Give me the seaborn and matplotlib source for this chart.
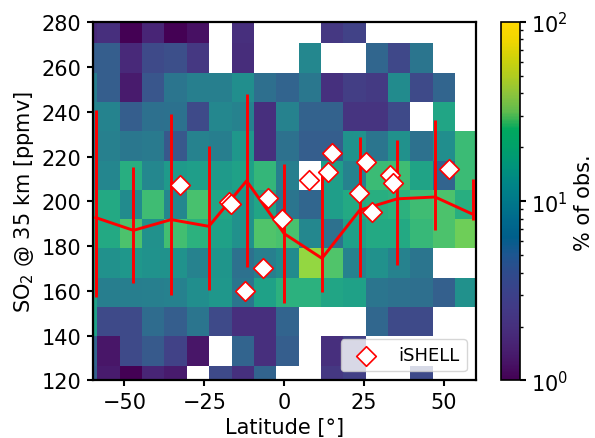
import numpy as np
import matplotlib
matplotlib.use("Agg")
import matplotlib.pyplot as plt
import seaborn as sns
from matplotlib.colors import LogNorm, LinearSegmentedColormap
from matplotlib.cm import ScalarMappable

nan = np.nan

# ---------------- data ----------------
# 2-D histogram bin edges
lat_edges = np.arange(-65.5, 61.0, 7.0)            # 18 latitude bins
so2_edges = 113.5 + 13.1 * np.arange(14)           # 13 SO2 bins

# % of observations per cell (rows: bottom -> top, columns: south -> north)
row_00 = [4.0, 1.4, 1.0, 1.6, 1.4, nan, 2.8, 1.9, 4.3, nan, nan, 2.1, 2.4, nan, nan, 2.8, nan, nan]
row_01 = [4.5, 1.3, 2.8, 3.6, 2.5, 1.3, nan, 4.3, 1.85, 3.9, nan, 1.85, 2.4, nan, nan, nan, nan, nan]
row_02 = [14, 2.8, 2.8, 5.0, 3.9, 6.0, 2.8, 1.85, 1.85, 4.3, nan, nan, nan, 4.6, 2.8, 2.8, nan, nan]
row_03 = [14, 7.0, 7.0, 7.2, 7.4, 9.5, 11.5, 6.0, 14, 19, 19, 15, 14, 6.0, 5.5, 5.3, 4.0, 10]
row_04 = [14, 10, 11.5, 10.5, 10.5, 7.5, 11, 5.5, 7.2, 9, 47, 28, 7.5, 10, 7.5, 6, nan, nan]
row_05 = [15, 16, 27, 10, 25, 19, 14, 10, 28, 26, 8.5, 5.5, 13.5, 16, 16, 22, 27, 36]
row_06 = [15, 16, 9, 24, 8.5, 26, 15, 10.5, 15, 6.0, 4.5, 13, 16, 18, 19, 24, 27, 18]
row_07 = [8, 8.3, 18, 8.5, 12, 13, 12, 14, 21, 7.2, nan, 13, 7.5, 23, 24, 14.5, 4.3, 23]
row_08 = [7.5, 7.3, 6.2, 6.6, 3.5, 7.5, 7.0, 11.5, 1.85, 5.5, 3.9, 3.9, 10.5, 6.0, 10, 5.5, 9.5, 23]
row_09 = [8, 7.8, 3.9, 5.4, 5.6, 2.8, 8.5, 7.5, 1.85, 7.5, 4.2, 4.2, 2.0, 2.0, 2.8, nan, 15, nan]
row_10 = [7, 3.9, 1.4, 3.4, 6.0, 7.2, 7.2, 9.5, 5.3, 4.3, 6.2, 1.9, 2.3, 2.2, 9.0, 2.8, 4.4, nan]
row_11 = [3.9, 3.9, 1.7, 2.8, 3.0, 2.1, nan, 1.8, nan, nan, 8.5, nan, nan, 4.5, 2.7, 6.0, nan, nan]
row_12 = [1.7, 1.85, 1.0, 1.6, 1.0, 1.2, nan, 1.85, nan, nan, nan, 2.1, 2.5, nan, nan, nan, nan, nan]

# binned mean and spread (red line + bars)
mean_lat = [-59, -47.2, -35.4, -23.6, -11.8, 0, 11.8, 23.6, 35.4, 47.2, 59]
mean_so2 = [192.8, 187.1, 191.9, 188.9, 209.2, 185.6, 174.6, 196.1, 201.2, 202.0, 194.3]
err_low  = [157.2, 163.6, 158.2, 160.6, 170.6, 154.8, 159.7, 166.4, 171.8, 187.4, 191.6]
err_high = [240.8, 215.4, 239.1, 224.8, 248.0, 216.8, 212.0, 228.8, 227.4, 236.6, 210.2]

# iSHELL observations
ishell_lat = [-32.5, -17.3, -16.6, -12.3, -6.8, -5.0, -0.7, 7.8, 13.7, 14.9, 23.5, 25.5, 27.3, 33.0, 33.9, 51.6]
ishell_so2 = [207.5, 199.9, 198.8, 160.1, 170.3, 201.6, 192.0, 209.7, 213.0, 221.6, 204.0, 217.8, 195.4, 211.8, 208.4, 214.6]

# colour bar colour stops
cbar_colors = ["#440154", "#471466", "#482474", "#46307e", "#423a86", "#3a428a",
               "#2f4b8c", "#1d5690", "#005f8b", "#006a8c", "#00788a", "#008587",
               "#00947a", "#00a06a", "#00a85f", "#5ebb4e", "#8cc43c", "#b0cc20",
               "#cfd20a", "#f0d600", "#ffd800"]

# ---------------- plot ----------------
FS = 15
fig = plt.figure(figsize=(5.95, 4.39), dpi=100)
ax = fig.add_axes([0.1555, 0.131, 0.6445, 0.8155])
cax = fig.add_axes([0.8415, 0.131, 0.0324, 0.8166])

counts = np.array([row_00, row_01, row_02, row_03, row_04, row_05, row_06,
                   row_07, row_08, row_09, row_10, row_11, row_12], dtype=float)
norm = LogNorm(vmin=1, vmax=100)
ax.pcolormesh(lat_edges, so2_edges, np.ma.masked_invalid(counts),
              cmap="viridis", norm=norm, zorder=1)

ax.vlines(mean_lat, err_low, err_high, colors="red", linewidth=2.1, zorder=3)
sns.lineplot(x=mean_lat, y=mean_so2, color="red", linewidth=2.1, ax=ax,
             zorder=3, legend=False, sort=False)
sns.scatterplot(x=ishell_lat, y=ishell_so2, marker="D", s=100, facecolor="white",
                edgecolor="red", linewidth=1.2, ax=ax, zorder=5, label="iSHELL")

ax.set_xlim(-60, 60)
ax.set_ylim(120, 280)
ax.set_xticks([-50, -25, 0, 25, 50])
ax.set_yticks(np.arange(120, 281, 20))
ax.set_xlabel("Latitude [°]", fontsize=FS)
ax.set_ylabel("SO$_2$ @ 35 km [ppmv]", fontsize=FS)
ax.tick_params(labelsize=FS, length=4.5, width=1.5)
for sp in ax.spines.values():
    sp.set_linewidth(1.6)
leg = ax.legend(loc="lower right", fontsize=13)
leg.set_zorder(10)

cmap_bar = LinearSegmentedColormap.from_list("bar", cbar_colors)
cb = fig.colorbar(ScalarMappable(norm=norm, cmap=cmap_bar), cax=cax)
cb.set_label("% of obs.", fontsize=FS)
cb.ax.tick_params(labelsize=FS, which="major", length=4.5, width=1.5)
cb.ax.tick_params(which="minor", length=2.5, width=1.0)
cb.outline.set_linewidth(1.2)

fig.savefig("out.png", dpi=100)
